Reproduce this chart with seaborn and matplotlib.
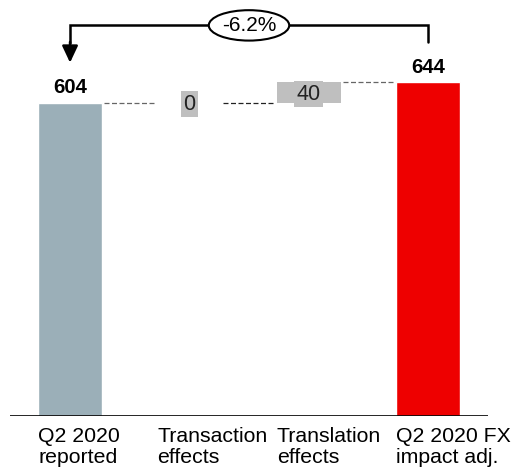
import matplotlib.pyplot as plt
import matplotlib.transforms as mtransforms
import seaborn as sns

# Data
categories = ['Q2 2020\nreported', 'Transaction\neffects', 'Translation\neffects', 'Q2 2020 FX\nimpact adj.']
start_value = 604
deltas = [0, 40]
end_value = 644
change_label = '-6.2%'

sns.set_theme(style='white')
plt.rcParams['font.family'] = ['Liberation Sans', 'DejaVu Sans']
plt.rcParams['text.color'] = 'black'

fig = plt.figure(figsize=(5.14, 4.73), dpi=100)
ax = fig.add_axes([0, 57 / 473, 1, 416 / 473])

bar_w = 0.536
totals = [start_value, 0, 0, end_value]
sns.barplot(x=list(range(4)), y=totals, hue=list(range(4)), legend=False,
            palette=['#9bafb8', '#ffffff', '#ffffff', '#ee0000'],
            width=bar_w, saturation=1, native_scale=True, ax=ax)

# floating delta bars
level = start_value
for i, d in enumerate(deltas):
    ax.bar(i + 1, d, bottom=level, width=bar_w, color='#bfbfbf', linewidth=0)
    label_y = level + d / 2 - 3 if d else level - 2
    ax.text(i + 1, label_y, str(d), ha='center', va='center', fontsize=15.5,
            color='#222222',
            bbox=dict(boxstyle='square,pad=0.12', fc='#bfbfbf', ec='none'))
    level += d

# connectors
levels = [start_value, start_value, end_value]
colors = ['#666666', '#222222', '#666666']
for i, lv in enumerate(levels):
    ax.plot([i + 0.285, i + 0.715], [lv, lv], ls=(0, (4, 2)), color=colors[i], lw=0.9)

# totals labels
for i, v in [(0, start_value), (3, end_value)]:
    ax.text(i, v + 11, str(v), ha='center', va='bottom', fontsize=14.7, fontweight='bold')

# bracket arrow
ax.plot([3, 3, 0, 0], [722, 755, 755, 720], color='black', lw=1.8, solid_joinstyle='miter')
ax.annotate('', xy=(0, 682), xytext=(0, 722),
            arrowprops=dict(arrowstyle='-|>,head_width=0.4,head_length=0.85',
                            color='black', lw=1.8, shrinkA=0, shrinkB=0))
ax.text(1.5, 754, change_label, ha='center', va='center', fontsize=15,
        bbox=dict(boxstyle='ellipse,pad=0.06', fc='white', ec='black', lw=1.5))

# baseline
ax.hlines(0, -0.503, 3.503, color='black', lw=1.2)

# category labels
trans = mtransforms.blended_transform_factory(ax.transData, ax.transAxes)
for i, lab in enumerate(categories):
    ax.text(i - bar_w / 2, -0.026, lab, transform=trans, ha='left', va='top',
            fontsize=15.3, linespacing=1.12)

ax.set_xlim(-0.587, 3.721)
ax.set_ylim(0, 803)
ax.axis('off')

fig.savefig('out.png', dpi=100)
